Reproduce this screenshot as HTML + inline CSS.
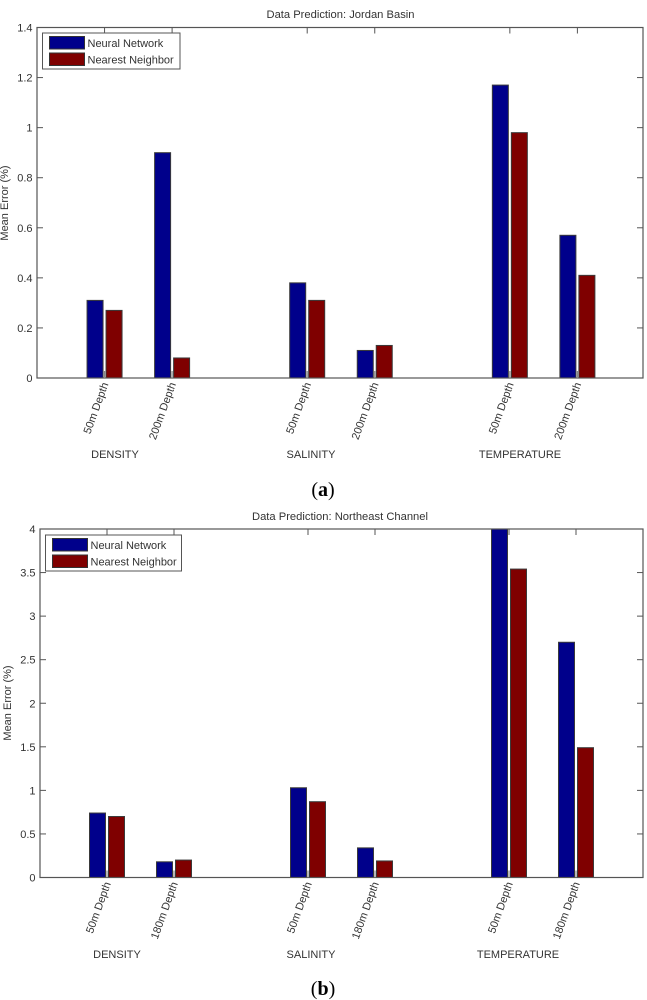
<!DOCTYPE html>
<html>
<head>
<meta charset="utf-8">
<title>Data Prediction</title>
<style>
html,body{margin:0;padding:0;background:#fff;}
#fig{display:block;width:647px;height:1000px;}
#fig text{font-family:"Liberation Sans",sans-serif;fill:#333;}
</style>
</head>
<body>
<svg id="fig" xmlns="http://www.w3.org/2000/svg" width="647" height="1000" viewBox="0 0 647 1000"></svg>
<script>
var seriesNames = ["Neural Network", "Nearest Neighbor"];
var seriesColors = ["#00008b", "#7f0000"];
var groupPositions = [1, 2, 4, 5, 7, 8];
var groupNames = ["DENSITY", "SALINITY", "TEMPERATURE"];

var titleA = "Data Prediction: Jordan Basin";
var categoriesA = ["50m Depth", "200m Depth", "50m Depth", "200m Depth", "50m Depth", "200m Depth"];
var neuralA = [0.31, 0.90, 0.38, 0.11, 1.17, 0.57];
var nearestA = [0.27, 0.08, 0.31, 0.13, 0.98, 0.41];
var yTicksA = [0, 0.2, 0.4, 0.6, 0.8, 1, 1.2, 1.4];
var yMaxA = 1.4;

var titleB = "Data Prediction: Northeast Channel";
var categoriesB = ["50m Depth", "180m Depth", "50m Depth", "180m Depth", "50m Depth", "180m Depth"];
var neuralB = [0.74, 0.18, 1.03, 0.34, 4, 2.7];
var nearestB = [0.70, 0.20, 0.87, 0.19, 3.54, 1.49];
var yTicksB = [0, 0.5, 1, 1.5, 2, 2.5, 3, 3.5, 4];
var yMaxB = 4;

var NS = "http://www.w3.org/2000/svg";
var fig = document.getElementById("fig");

function make(parent, tag, attrs, text) {
  var el = document.createElementNS(NS, tag);
  for (var k in attrs) el.setAttribute(k, attrs[k]);
  if (text !== undefined) el.textContent = text;
  parent.appendChild(el);
  return el;
}

function drawChart(cfg) {
  var g = make(fig, "g", {});
  
  

  function xScale(v) { return cfg.left + v * cfg.xStep; }
  function yScale(v) { return cfg.bottom - (v / cfg.yMax) * (cfg.bottom - cfg.top); }

  var barW = 16;
  var offsets = [-17.5, 1.5];
  var series = [cfg.neural, cfg.nearest];
  series.forEach(function (vals, s) {
    vals.forEach(function (v, i) {
      var bar = make(g, "rect", {
        x: xScale(groupPositions[i]) + offsets[s],
        y: yScale(v),
        width: barW,
        height: cfg.bottom - yScale(v),
        fill: seriesColors[s],
        stroke: "#3a3a3a",
        "stroke-width": 1
      });
      
      
    });
  });

  var frame = make(g, "rect", {
    x: cfg.left, y: cfg.top,
    width: cfg.right - cfg.left, height: cfg.bottom - cfg.top,
    fill: "none", stroke: "#555", "stroke-width": 1.2
  });
  
  

  cfg.yTicks.forEach(function (t) {
    var y = yScale(t);
    make(g, "line", {x1: cfg.left, x2: cfg.left + 6, y1: y, y2: y, stroke: "#555", "stroke-width": 1});
    make(g, "line", {x1: cfg.right - 6, x2: cfg.right, y1: y, y2: y, stroke: "#555", "stroke-width": 1});
    var lab = make(g, "text", {
      x: cfg.left - 4.5, y: y + 4, "text-anchor": "end", "font-size": 11
    }, String(t));
    
    
  });

  groupPositions.forEach(function (p, i) {
    var x = xScale(p);
    make(g, "line", {x1: x, x2: x, y1: cfg.bottom, y2: cfg.bottom - 7, stroke: "#888", "stroke-width": 1.2});
    make(g, "line", {x1: x, x2: x, y1: cfg.top, y2: cfg.top + 6, stroke: "#555", "stroke-width": 1});
    var lab = make(g, "text", {
      x: 0, y: 0, "text-anchor": "end", "font-size": 11,
      transform: "translate(" + (x + 4) + "," + (cfg.bottom + 6) + ") rotate(-70)"
    }, cfg.categories[i]);
    
    
  });

  groupNames.forEach(function (n, i) {
    var lab = make(g, "text", {
      x: cfg.groupX[i], y: cfg.groupY, "text-anchor": "middle", "font-size": 11
    }, n);
    
    
  });

  var title = make(g, "text", {
    x: cfg.titleX, y: cfg.titleY, "text-anchor": "middle", "font-size": 11.2
  }, cfg.title);
  
  

  var yTitle = make(g, "text", {
    x: 0, y: 0, "text-anchor": "middle", "font-size": 11,
    transform: "translate(" + cfg.yTitleX + "," + cfg.yTitleY + ") rotate(-90)"
  }, "Mean Error (%)");
  
  

  var leg = make(g, "g", {});
  
  
  make(leg, "rect", {
    x: cfg.legX, y: cfg.legY, width: cfg.legW, height: 36,
    fill: "#fff", stroke: "#555", "stroke-width": 1
  });
  seriesNames.forEach(function (n, s) {
    var sy = cfg.legY + 3.5 + s * 16.5;
    var swatch = make(leg, "rect", {
      x: cfg.legX + 7, y: sy, width: 35, height: 12.5,
      fill: seriesColors[s], stroke: "#333", "stroke-width": 1
    });
    
    
    var lab = make(leg, "text", {
      x: cfg.legX + 45, y: sy + 10.5, "font-size": 11
    }, n);
    
    
  });

  var cap = make(g, "text", {
    x: 323, y: cfg.capY, "text-anchor": "middle", "font-size": 20
  });
  
  
  cap.style.fontFamily = '"Liberation Serif",serif';
  cap.style.fill = '#000';
  make(cap, "tspan", {}, "(");
  make(cap, "tspan", {"font-weight": "bold"}, cfg.capLetter);
  make(cap, "tspan", {}, ")");
}

drawChart({
  name: "chart-jordan-basin", title: titleA, categories: categoriesA,
  neural: neuralA, nearest: nearestA, yTicks: yTicksA, yMax: yMaxA,
  left: 37, right: 643, top: 27.5, bottom: 378, xStep: 67.55,
  groupX: [115, 311, 520], groupY: 458,
  titleX: 340.5, titleY: 18, yTitleX: 8, yTitleY: 203,
  legX: 42.5, legY: 33, legW: 137.5, capY: 496, capLetter: "a"
});
drawChart({
  name: "chart-northeast-channel", title: titleB, categories: categoriesB,
  neural: neuralB, nearest: nearestB, yTicks: yTicksB, yMax: yMaxB,
  left: 40, right: 643, top: 529, bottom: 877.5, xStep: 67,
  groupX: [117, 311, 518], groupY: 958,
  titleX: 340, titleY: 520, yTitleX: 11, yTitleY: 703,
  legX: 45.5, legY: 535, legW: 136, capY: 995, capLetter: "b"
});
</script>
</body>
</html>
